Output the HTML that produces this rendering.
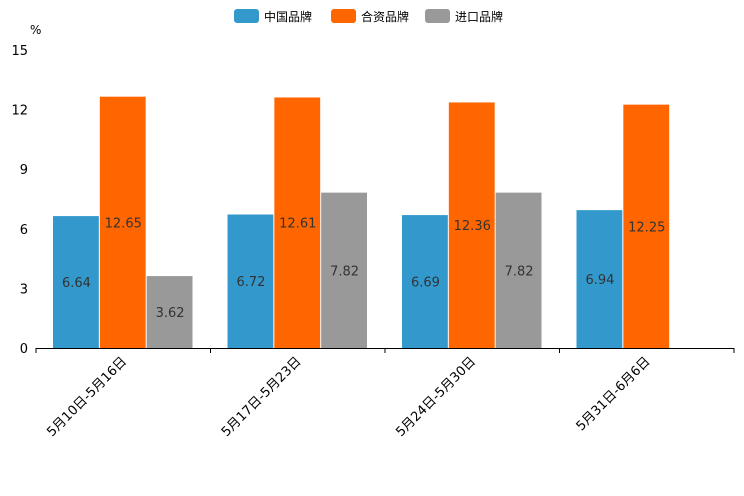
<!DOCTYPE html>
<html><head><meta charset="utf-8"><style>
html,body{margin:0;padding:0;background:#fff;}
svg{display:block;font-family:"DejaVu Sans","Noto Sans CJK SC",sans-serif;}
</style></head><body>
<svg id="chart" width="744" height="496" viewBox="0 0 744 496" xmlns="http://www.w3.org/2000/svg"></svg>
<script>
const categories = ["5月10日-5月16日","5月17日-5月23日","5月24日-5月30日","5月31日-6月6日"];
const seriesNames = ["中国品牌","合资品牌","进口品牌"];
const domestic = [6.64, 6.72, 6.69, 6.94];
const jointVenture = [12.65, 12.61, 12.36, 12.25];
const imported = [3.62, 7.82, 7.82, null];
const yTicks = [0, 3, 6, 9, 12, 15];
const colors = ["#3399cc","#ff6600","#999999"];

const svg = document.getElementById('chart');
const NS = 'http://www.w3.org/2000/svg';
const x0 = 36, x1 = 734, yBase = 348, yTop = 50, yMax = 15;
const yScale = v => yBase - (v / yMax) * (yBase - yTop);
const groupW = (x1 - x0) / categories.length;
const pad = 17;
const barW = (groupW - 2 * pad) / 3;
function mk(tag, attrs, text) {
  const e = document.createElementNS(NS, tag);
  for (const k in attrs) e.setAttribute(k, attrs[k]);
  if (text !== undefined) e.textContent = text;
  svg.appendChild(e);
  return e;
}
yTicks.forEach(t => {
  const e = mk('text', {x: 28, y: yScale(t) + 5, 'text-anchor': 'end', 'font-size': 13, fill: '#000'}, String(t));
  
  
});
const unit = mk('text', {x: 30, y: 34, 'font-size': 12, fill: '#000'}, '%');


const allSeries = [domestic, jointVenture, imported];
allSeries.forEach((s, si) => {
  s.forEach((v, ci) => {
    if (v === null || v === undefined) return;
    const x = x0 + ci * groupW + pad + si * barW;
    const y = yScale(v);
    const r = mk('rect', {x: x, y: y, width: barW - 1, height: yBase - y, fill: colors[si]});
    
    
    const t = mk('text', {x: x + barW / 2, y: (y + yBase) / 2 + 5, 'text-anchor': 'middle', 'font-size': 13, fill: '#333'}, v.toFixed(2));
    
    
  });
});
const ax = mk('line', {x1: x0, y1: yBase + 0.5, x2: x1, y2: yBase + 0.5, stroke: '#000', 'stroke-width': 1});


for (let i = 0; i <= categories.length; i++) {
  const x = x0 + i * groupW;
  const tk = mk('line', {x1: x, y1: yBase, x2: x, y2: yBase + 5, stroke: '#000'});
  
  
}
categories.forEach((c, i) => {
  const cx = x0 + (i + 0.5) * groupW;
  const t = mk('text', {x: cx + 4, y: yBase + 14, 'text-anchor': 'end', 'font-size': 13, fill: '#000', transform: `rotate(-45 ${cx + 4} ${yBase + 14})`}, c);
  
  
});
const legendX = [234, 331, 425];
seriesNames.forEach((n, i) => {
  const g = document.createElementNS(NS, 'g');
  
  
  svg.appendChild(g);
  const r = document.createElementNS(NS, 'rect');
  r.setAttribute('x', legendX[i]); r.setAttribute('y', 9); r.setAttribute('width', 25); r.setAttribute('height', 14);
  r.setAttribute('rx', 3); r.setAttribute('fill', colors[i]);
  g.appendChild(r);
  const t = document.createElementNS(NS, 'text');
  t.setAttribute('x', legendX[i] + 30); t.setAttribute('y', 21); t.setAttribute('font-size', 12); t.setAttribute('fill', '#000');
  t.textContent = n;
  g.appendChild(t);
});
</script>
</body></html>
